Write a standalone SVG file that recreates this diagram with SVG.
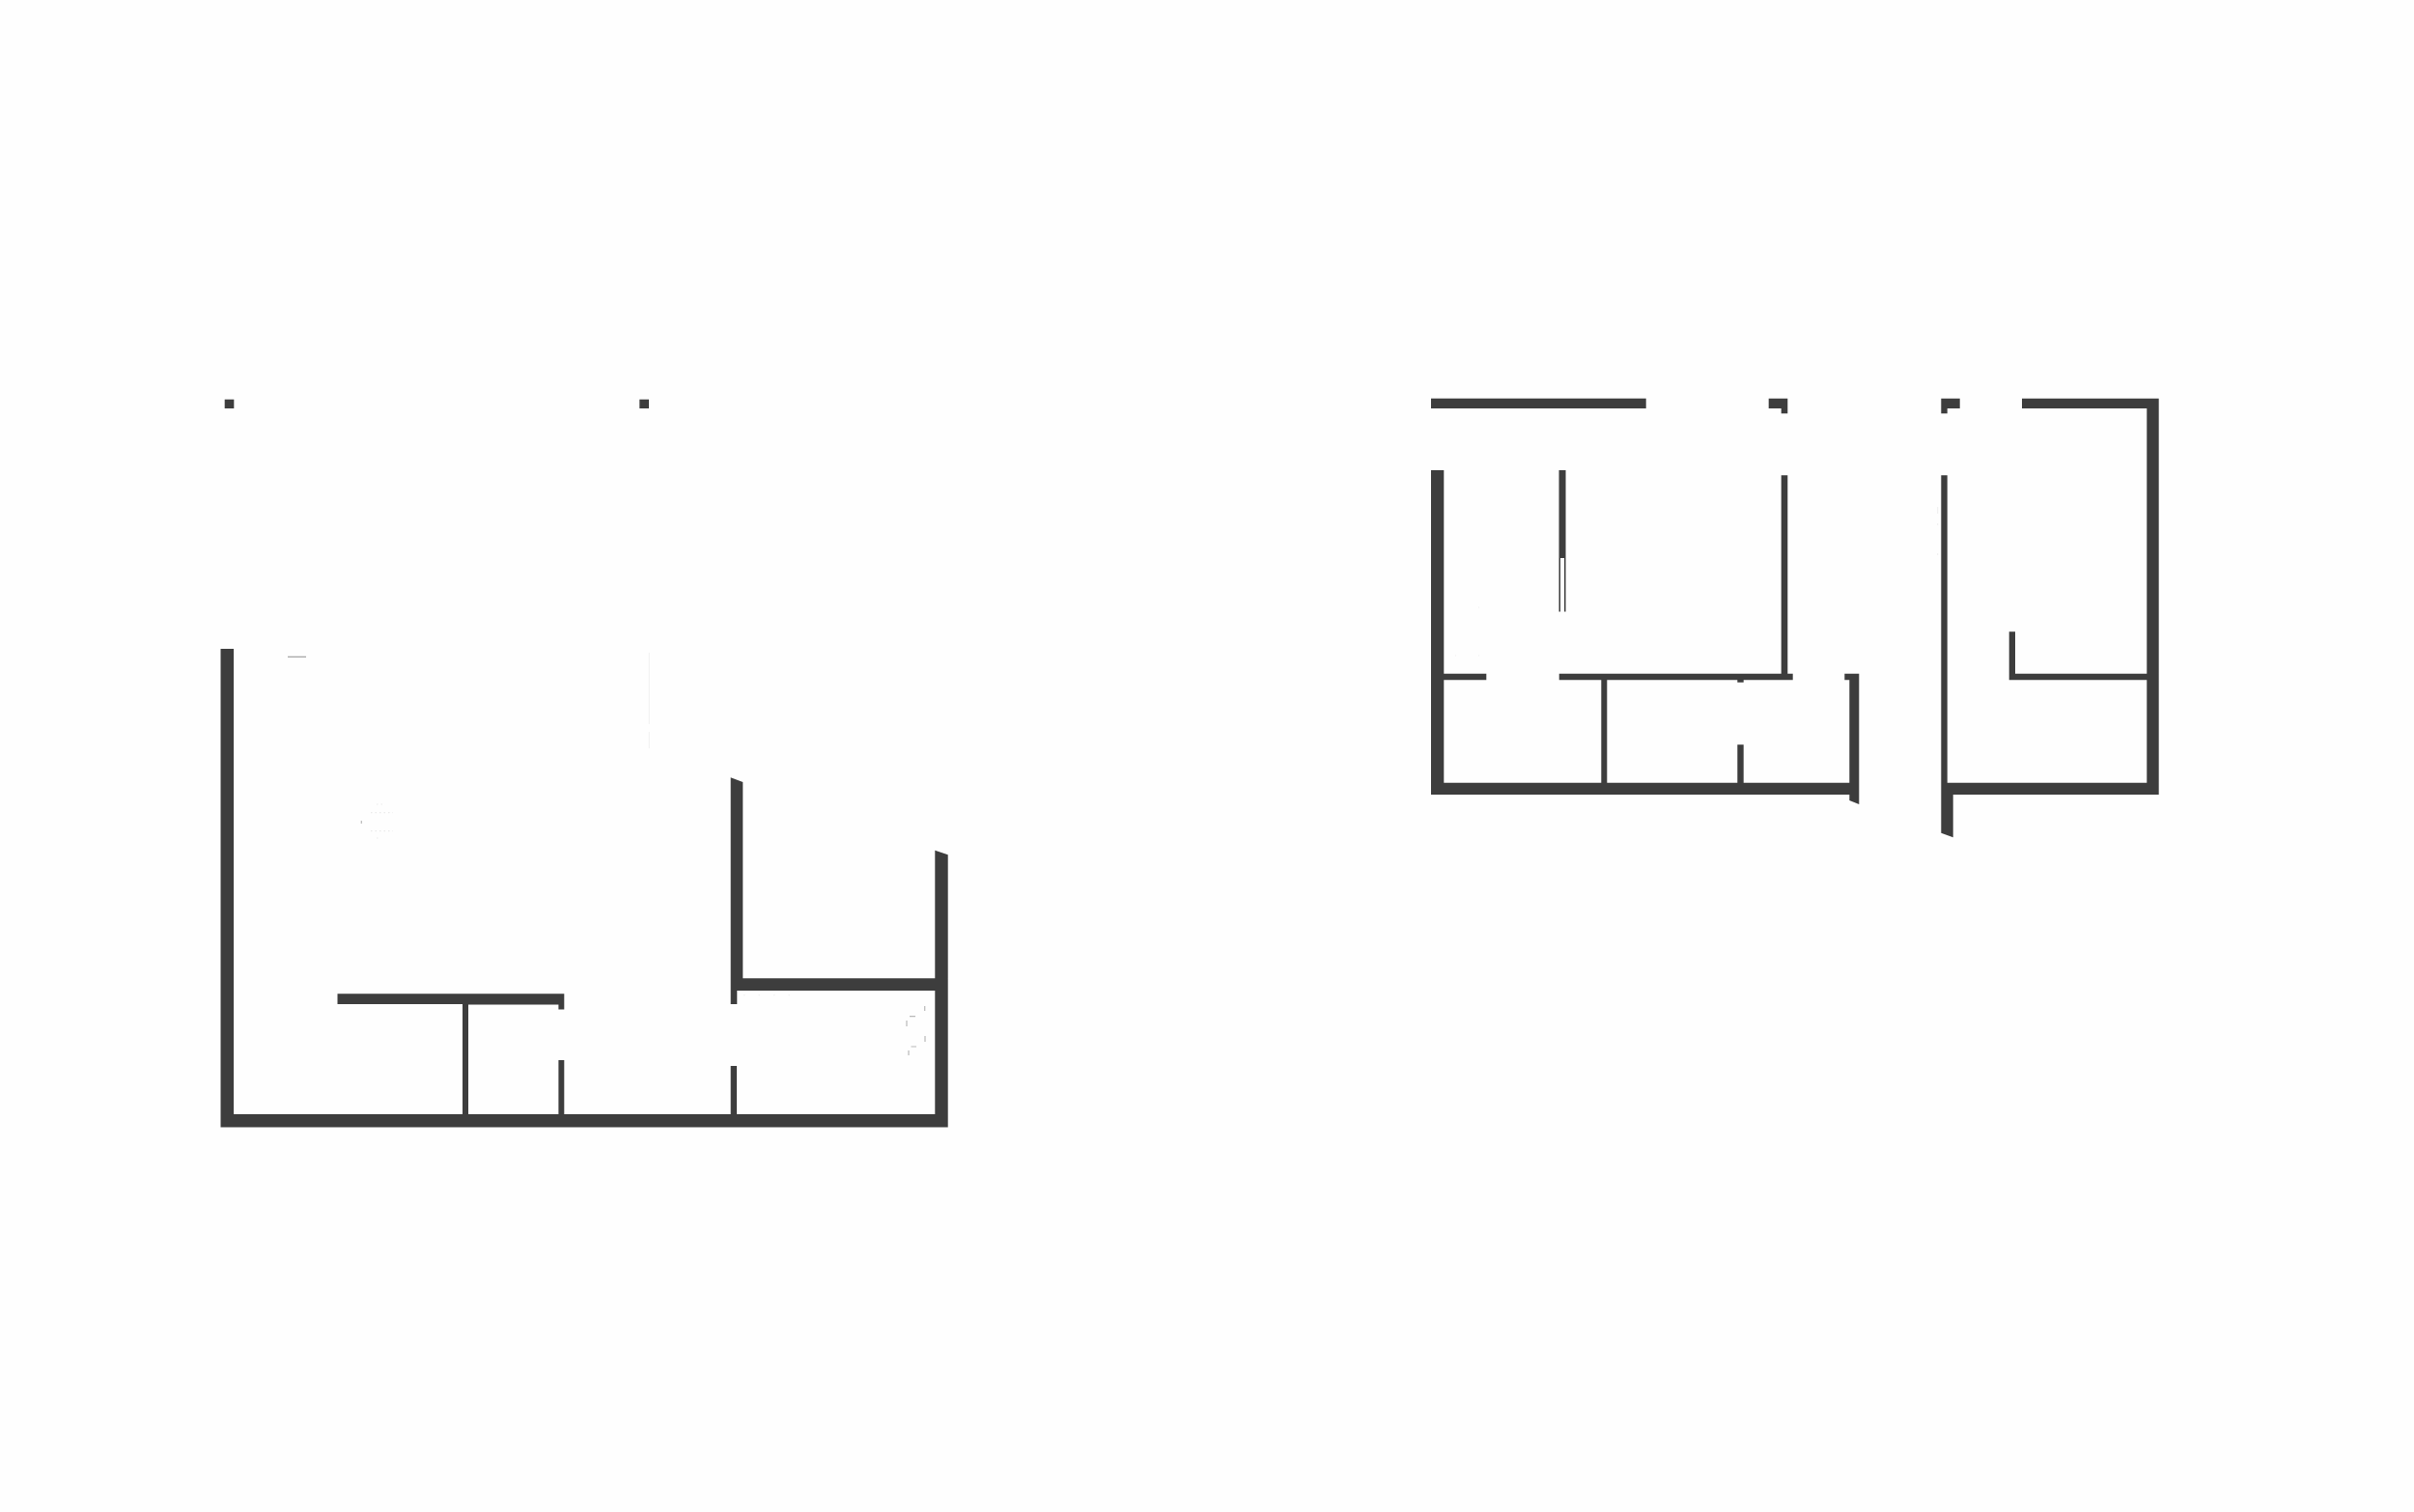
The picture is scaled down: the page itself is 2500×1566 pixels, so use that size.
<svg xmlns="http://www.w3.org/2000/svg" width="2500" height="1566" viewBox="0 0 2500 1566">
<style>
.w{fill:#3d3d3d}
.g{stroke:#a0a0a0;stroke-width:1.2;fill:none}
.f{stroke:#f0f0f0;stroke-width:1;fill:none}
.d{stroke:#eaeaea;stroke-width:1.2;fill:none}
.m{stroke:#b8b8b8;stroke-width:1.2;fill:none}
.l{stroke:#eeeeee;stroke-width:1;fill:none}
</style>
<rect width="2500" height="1566" fill="#fefefe"/>
<g id="plan-left">
<rect class="w" x="232.7" y="413.7" width="9.6" height="9.3"/>
<rect class="w" x="662.3" y="413.7" width="9.7" height="9.3"/>
<path class="w" d="M228.5 672H242V1154H479V1040H349.5V1029.3H584.3V1045.5H578.4V1040.5H485V1154H578.4V1098H584.3V1154H756.7V1104H763V1154H968.3V1026H763.3V1040H756.7V805.3L769.3 810V1013.3H968.3V880.7L981.7 885.3V1167.5H228.5Z"/>
<path class="g" d="M298 680.3H317"/>
<path class="f" d="M672.3 676V750M672.3 758V775"/>
<path class="d" stroke-dasharray="1.5 3" d="M384 841.7H407M384 860.7H407M390 833H396M390 868H394"/>
<path class="m" d="M374.3 850V853"/>
<path class="m" d="M942 1052.7H948M939 1057V1063M957.7 1042V1047M943.5 1084H949M941 1088V1093M958 1073V1079"/>
<path class="l" stroke-dasharray="1.5 14" d="M770 1030.7H826"/>
</g>
<g id="plan-right">
<rect class="w" x="1482" y="412.7" width="222.7" height="10.3"/>
<path class="w" d="M1831.7 412.7H1851.3V428.3H1844.7V423H1831.7Z"/>
<path class="w" d="M1482 487H1495.3V697.7H1539.3V704.3H1495.3V810.7H1658.3V704.3H1614.7V697.7H1844.7V492.3H1851.3V697.7H1856.7V704.3H1805.7V706.7H1799.3V704.3H1664.3V810.7H1799.3V771.3H1805.7V810.7H1915.3V704.3H1910.3V697.7H1925.3V833L1915.3 829V823H1482Z"/>
<rect class="w" x="1614.5" y="487" width="7" height="91"/>
<path class="w" d="M1614.5 578H1616V633.5H1614.5ZM1620 578H1621.5V633.5H1620Z"/>
<path class="w" d="M2010.3 412.7H2029.7V423H2016.7V428.3H2010.3Z"/>
<path class="w" d="M2094 412.7H2235.7V823H2022.7V867.3L2010.3 862.7V492.3H2016.7V810.7H2223.3V704.3H2080.7V654.3H2087V697.7H2223.3V423H2094Z"/>
<path class="l" d="M1531 629h1M1531 679h1M1507 679h1M2006.7 525V532M2006.7 542v2M2006.7 573v2"/>
</g>
</svg>
